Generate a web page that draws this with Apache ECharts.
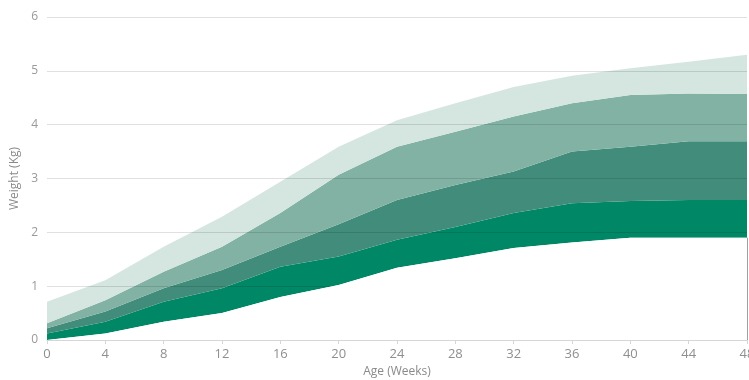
<!DOCTYPE html>
<html>
<head>
<meta charset="utf-8">
<script src="https://cdn.jsdelivr.net/npm/echarts@6/dist/echarts.min.js"></script>
<style>html,body{margin:0;padding:0;background:#fff}#c{width:749px;height:380px}</style>
</head>
<body>
<div id="c"></div>
<script>
var weeks = ['0', '4', '8', '12', '16', '20', '24', '28', '32', '36', '40', '44', '48'];
var lineBottom = [0, 0.12, 0.34, 0.5, 0.8, 1.02, 1.34, 1.52, 1.71, 1.81, 1.9, 1.9, 1.9];
var line1 = [0.12, 0.34, 0.71, 0.96, 1.36, 1.55, 1.86, 2.1, 2.36, 2.54, 2.58, 2.6, 2.6];
var line2 = [0.22, 0.53, 0.96, 1.3, 1.73, 2.15, 2.6, 2.88, 3.13, 3.5, 3.59, 3.69, 3.69];
var line3 = [0.31, 0.74, 1.27, 1.73, 2.36, 3.07, 3.59, 3.87, 4.15, 4.4, 4.55, 4.58, 4.57];
var line4 = [0.71, 1.11, 1.73, 2.29, 2.94, 3.59, 4.08, 4.4, 4.7, 4.91, 5.05, 5.17, 5.3];
var yTicks = [0, 1, 2, 3, 4, 5, 6];

var bandColors = ['#008866', '#418c7a', '#82b2a4', '#d5e5e0'];
var bounds = [lineBottom, line1, line2, line3, line4];

function diffs(upper, lower) {
  return upper.map(function (v, i) { return +(v - lower[i]).toFixed(3); });
}

var series = [{
  name: 'base', type: 'line', stack: 'w', symbol: 'none', silent: true,
  z: 3,
  lineStyle: { width: 0 },
  areaStyle: { color: '#ffffff', opacity: 1 },
  data: lineBottom.slice(),
  markLine: {
    silent: true, symbol: 'none', label: { show: false },
    lineStyle: { color: '#a0a0a0', width: 1, type: 'solid' },
    data: [[{ coord: [weeks[weeks.length - 1], 0] }, { coord: [weeks[weeks.length - 1], lineBottom[lineBottom.length - 1]] }]]
  }
}];
for (var k = 1; k < bounds.length; k++) {
  series.push({
    name: 'band' + k, type: 'line', stack: 'w', symbol: 'none', silent: true,
    z: 1,
    lineStyle: { width: 0 },
    areaStyle: { color: bandColors[k - 1], opacity: 1 },
    data: diffs(bounds[k], bounds[k - 1])
  });
}

var labelFont = "'Open Sans', sans-serif";
var chart = echarts.init(document.getElementById('c'), null, { renderer: 'canvas' });
chart.setOption({
  animation: false,
  grid: { left: 47, right: 2, top: 17, bottom: 40, containLabel: false, outerBoundsMode: 'none' },
  xAxis: {
    type: 'category', data: weeks, boundaryGap: false, z: 4,
    name: 'Age (Weeks)', nameLocation: 'middle', nameGap: 26,
    nameTextStyle: { color: '#8a8a8a', fontSize: 12, fontFamily: labelFont },
    axisLine: { show: true, lineStyle: { color: '#d6d6d6' } },
    axisTick: { show: true, length: 4, alignWithLabel: true, lineStyle: { color: '#d6d6d6' } },
    axisLabel: { color: '#8f8f8f', fontSize: 13, fontFamily: labelFont, margin: 8 },
    splitLine: { show: false }
  },
  yAxis: {
    type: 'value', min: yTicks[0], max: yTicks[yTicks.length - 1], interval: 1, z: 2,
    name: 'Weight (Kg)', nameLocation: 'middle', nameGap: 20,
    nameTextStyle: { color: '#8a8a8a', fontSize: 12, fontFamily: labelFont },
    axisLine: { show: false }, axisTick: { show: false },
    axisLabel: { color: '#999999', fontSize: 12, fontFamily: labelFont, margin: 9 },
    splitLine: { show: true, lineStyle: { color: 'rgba(0,0,0,0.12)', width: 1 } }
  },
  series: series
});
</script>
</body>
</html>
